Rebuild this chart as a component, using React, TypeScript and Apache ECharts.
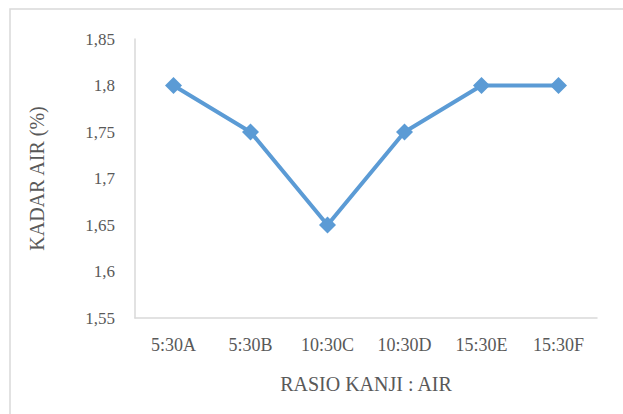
import React, { useEffect, useRef } from "react";
import * as echarts from "echarts";

const categories = ["5:30A", "5:30B", "10:30C", "10:30D", "15:30E", "15:30F"];
const kadarAir = [1.8, 1.75, 1.65, 1.75, 1.8, 1.8];
const yMin = 1.55;
const yMax = 1.85;
const yStep = 0.05;

export default function App() {
  const ref = useRef<HTMLDivElement>(null);
  useEffect(() => {
    if (!ref.current) return;
    const chart = echarts.init(ref.current, undefined, { renderer: "svg" });
    const font = "'Liberation Serif', 'Times New Roman', serif";
    chart.setOption({
      animation: false,
      backgroundColor: "#ffffff",
      graphic: [
        {
          type: "rect",
          shape: { x: 10, y: 9, width: 640, height: 440 },
          style: { fill: "none", stroke: "#d9d9d9", lineWidth: 1.5 },
          silent: true,
        },
      ],
      grid: { left: 135, right: 26, top: 39, bottom: 96 },
      xAxis: {
        type: "category",
        data: categories,
        boundaryGap: true,
        axisLine: { lineStyle: { color: "#d9d9d9", width: 1.5 } },
        axisTick: { show: false },
        axisLabel: {
          color: "#595959",
          fontFamily: font,
          fontSize: 18,
          margin: 18,
          interval: 0,
        },
        name: "RASIO KANJI : AIR",
        nameLocation: "middle",
        nameGap: 56,
        nameTextStyle: { color: "#595959", fontFamily: font, fontSize: 20 },
      },
      yAxis: {
        type: "value",
        min: yMin,
        max: yMax,
        interval: yStep,
        splitLine: { show: false },
        axisLine: { show: true, lineStyle: { color: "#d9d9d9", width: 1.5 } },
        axisTick: { show: false },
        axisLabel: {
          color: "#595959",
          fontFamily: font,
          fontSize: 17,
          margin: 20,
          formatter: (v: number) => String(Math.round(v * 100) / 100).replace(".", ","),
        },
        name: "KADAR AIR (%)",
        nameLocation: "middle",
        nameGap: 88,
        nameRotate: 90,
        nameTextStyle: { color: "#595959", fontFamily: font, fontSize: 20 },
      },
      series: [
        {
          type: "line",
          data: kadarAir,
          symbol: "diamond",
          symbolSize: 17,
          lineStyle: { color: "#5B9BD5", width: 4 },
          itemStyle: { color: "#5B9BD5" },
        },
      ],
    });
    return () => chart.dispose();
  }, []);
  return <div ref={ref} style={{ width: 623, height: 414, position: "absolute", left: 0, top: 0 }} />;
}
